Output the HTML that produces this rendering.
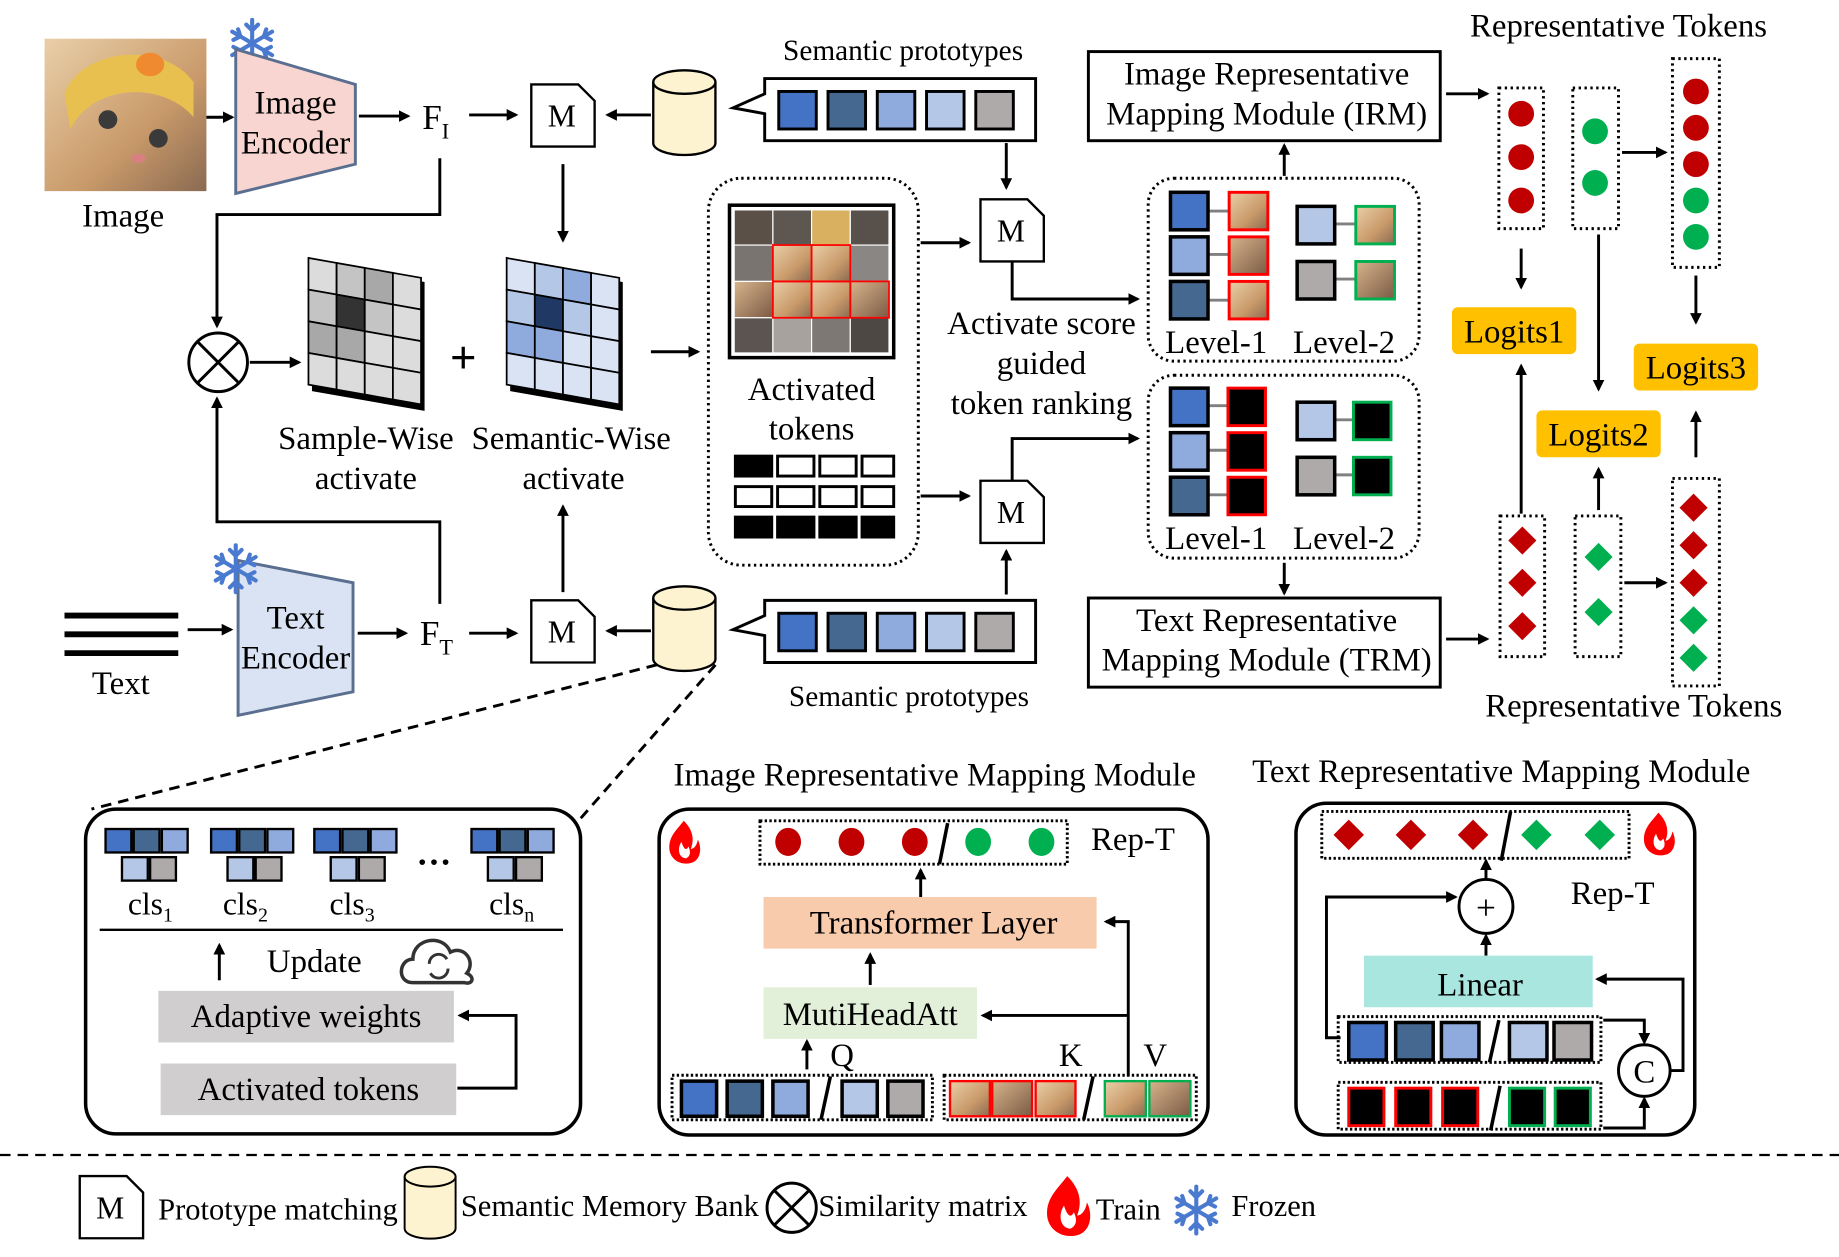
<!DOCTYPE html>
<html><head><meta charset="utf-8">
<style>
html,body{margin:0;padding:0;background:#fff;}
svg{display:block;}
text{font-family:"Liberation Serif",serif;fill:#000;}
</style></head>
<body>
<svg width="1839" height="1257" viewBox="0 0 1568 1072" preserveAspectRatio="none" xmlns="http://www.w3.org/2000/svg">
<defs>
<marker id="ar" markerWidth="10" markerHeight="10" refX="8" refY="5" orient="auto" markerUnits="userSpaceOnUse"><path d="M0,0 L10,5 L0,10 z" fill="#000"/></marker>
<linearGradient id="cat" x1="0" y1="0" x2="1" y2="1"><stop offset="0" stop-color="#e9cfa8"/><stop offset="0.6" stop-color="#c99a6a"/><stop offset="1" stop-color="#8a6a52"/></linearGradient>
<linearGradient id="cat2" x1="0" y1="0" x2="1" y2="1"><stop offset="0" stop-color="#d8b48c"/><stop offset="1" stop-color="#7a5a44"/></linearGradient>
<g id="M"><path d="M0,0 H40 L54,14 V53 H0 Z" fill="#fff" stroke="#000" stroke-width="2"/><text x="26" y="36" font-size="27" text-anchor="middle">M</text></g>
<g id="cyl"><path d="M0,10 V62 A26,10 0 0 0 53,62 V10" fill="#fdf3d0" stroke="#000" stroke-width="2"/><ellipse cx="26.5" cy="10" rx="26.5" ry="10" fill="#fdf3d0" stroke="#000" stroke-width="2"/></g>
<g id="fire"><path d="M0,0 C-6,8 -14,14 -12,26 C-10,34 -2,38 6,36 C14,34 16,24 12,16 C11,22 8,24 6,24 C10,14 6,6 0,0 Z" fill="#f00"/><path d="M-2,18 C-6,24 -4,32 2,32 C6,30 6,26 4,22 C2,26 0,24 -2,18Z" fill="#fff"/></g>
<g id="snow" stroke="#4a7ad0" stroke-width="3.5" fill="none" stroke-linecap="round"><line x1="0" y1="-20" x2="0" y2="20"/><line x1="-17" y1="-10" x2="17" y2="10"/><line x1="-17" y1="10" x2="17" y2="-10"/><path d="M-5,-16 L0,-11 L5,-16 M-5,16 L0,11 L5,16 M-16,-3 L-10,-6 L-12,-12 M16,3 L10,6 L12,12 M-16,3 L-10,6 L-12,12 M16,-3 L10,-6 L12,-12"/></g>
</defs>

<rect x="38" y="33" width="138" height="130" fill="url(#cat)"/>
<path d="M55,80 C70,40 140,35 165,70 L165,100 C140,70 80,70 60,110 Z" fill="#e8c050"/>
<ellipse cx="128" cy="55" rx="12" ry="10" fill="#f08a30"/>
<circle cx="92" cy="102" r="8" fill="#3a3a3a"/><circle cx="135" cy="118" r="8" fill="#3a3a3a"/>
<ellipse cx="118" cy="135" rx="6" ry="4" fill="#d88080"/>
<use href="#snow" x="215" y="37"/>
<path d="M201,42 L303,72 L303,140 L201,165 Z" fill="#f8d5d0" stroke="#5a6f90" stroke-width="2.5"/>
<text x="252" y="97" font-size="28" text-anchor="middle">Image</text>
<text x="252" y="131" font-size="28" text-anchor="middle">Encoder</text>
<text x="105" y="193" font-size="28" text-anchor="middle">Image</text>
<line x1="176" y1="100" x2="198" y2="100" stroke="#000" stroke-width="2.5" marker-end="url(#ar)"/>
<line x1="306" y1="99" x2="348" y2="99" stroke="#000" stroke-width="2.5" marker-end="url(#ar)"/>
<text x="360" y="110" font-size="30">F<tspan font-size="19" dy="8">I</tspan></text>
<line x1="400" y1="98" x2="440" y2="98" stroke="#000" stroke-width="2.5" marker-end="url(#ar)"/>
<use href="#M" x="453" y="72"/>
<line x1="555" y1="98" x2="518" y2="98" stroke="#000" stroke-width="2.5" marker-end="url(#ar)"/>
<use href="#cyl" x="557" y="60"/>
<path d="M652,67 H883 V120 H652 V97 L625,92 L652,80 Z" fill="#fff" stroke="#000" stroke-width="2.5"/>
<g stroke="#000" stroke-width="2.5">
<rect x="664" y="78" width="32" height="32" fill="#4472c4"/><rect x="706" y="78" width="32" height="32" fill="#44688f"/><rect x="748" y="78" width="32" height="32" fill="#8faadc"/><rect x="790" y="78" width="32" height="32" fill="#b4c7e7"/><rect x="832" y="78" width="32" height="32" fill="#aeaaaa"/>
</g>
<text x="770" y="51" font-size="25" text-anchor="middle">Semantic prototypes</text>
<line x1="858" y1="122" x2="858" y2="160" stroke="#000" stroke-width="2.5" marker-end="url(#ar)"/>
<use href="#M" x="836" y="170"/>

<rect x="928" y="44" width="300" height="76" fill="#fff" stroke="#000" stroke-width="2.5"/>
<text x="1080" y="72" font-size="28" text-anchor="middle">Image Representative</text>
<text x="1080" y="106" font-size="28" text-anchor="middle">Mapping Module (IRM)</text>
<line x1="1095" y1="150" x2="1095" y2="124" stroke="#000" stroke-width="2.5" marker-end="url(#ar)"/>
<line x1="1233" y1="80" x2="1268" y2="80" stroke="#000" stroke-width="2.5" marker-end="url(#ar)"/>
<text x="1380" y="31" font-size="28" text-anchor="middle">Representative Tokens</text>

<g fill="none" stroke="#000" stroke-width="2.5" stroke-dasharray="2,3">
<rect x="1278" y="75" width="38" height="120"/><rect x="1341" y="75" width="39" height="120"/><rect x="1426" y="50" width="40" height="178"/>
<rect x="1279" y="440" width="38" height="120"/><rect x="1343" y="440" width="39" height="120"/><rect x="1426" y="408" width="40" height="177"/>
</g>
<g fill="#c00000"><circle cx="1297" cy="97" r="11"/><circle cx="1297" cy="134" r="11"/><circle cx="1297" cy="171" r="11"/>
<circle cx="1446" cy="78" r="11"/><circle cx="1446" cy="109" r="11"/><circle cx="1446" cy="140" r="11"/></g>
<g fill="#00b050"><circle cx="1360" cy="112" r="11"/><circle cx="1360" cy="156" r="11"/><circle cx="1446" cy="171" r="11"/><circle cx="1446" cy="202" r="11"/></g>
<line x1="1383" y1="130" x2="1420" y2="130" stroke="#000" stroke-width="2.5" marker-end="url(#ar)"/>
<line x1="1297" y1="212" x2="1297" y2="245" stroke="#000" stroke-width="2.5" marker-end="url(#ar)"/>
<line x1="1363" y1="200" x2="1363" y2="332" stroke="#000" stroke-width="2.5" marker-end="url(#ar)"/>
<line x1="1446" y1="235" x2="1446" y2="275" stroke="#000" stroke-width="2.5" marker-end="url(#ar)"/>
<rect x="1238" y="262" width="106" height="40" rx="5" fill="#ffc000"/><text x="1291" y="292" font-size="28" text-anchor="middle">Logits1</text>
<rect x="1310" y="350" width="106" height="40" rx="5" fill="#ffc000"/><text x="1363" y="380" font-size="28" text-anchor="middle">Logits2</text>
<rect x="1393" y="293" width="106" height="40" rx="5" fill="#ffc000"/><text x="1446" y="323" font-size="28" text-anchor="middle">Logits3</text>
<line x1="1297" y1="438" x2="1297" y2="312" stroke="#000" stroke-width="2.5" marker-end="url(#ar)"/>
<line x1="1363" y1="435" x2="1363" y2="400" stroke="#000" stroke-width="2.5" marker-end="url(#ar)"/>
<line x1="1446" y1="390" x2="1446" y2="352" stroke="#000" stroke-width="2.5" marker-end="url(#ar)"/>
<g fill="#c00000">
<path d="M1298,449 l12,12 l-12,12 l-12,-12z"/><path d="M1298,485 l12,12 l-12,12 l-12,-12z"/><path d="M1298,522 l12,12 l-12,12 l-12,-12z"/>
<path d="M1444,421 l12,12 l-12,12 l-12,-12z"/><path d="M1444,453 l12,12 l-12,12 l-12,-12z"/><path d="M1444,485 l12,12 l-12,12 l-12,-12z"/>
</g>
<g fill="#00b050">
<path d="M1363,463 l12,12 l-12,12 l-12,-12z"/><path d="M1363,510 l12,12 l-12,12 l-12,-12z"/>
<path d="M1444,517 l12,12 l-12,12 l-12,-12z"/><path d="M1444,549 l12,12 l-12,12 l-12,-12z"/>
</g>
<line x1="1385" y1="497" x2="1420" y2="497" stroke="#000" stroke-width="2.5" marker-end="url(#ar)"/>
<text x="1393" y="611" font-size="28" text-anchor="middle">Representative Tokens</text>
<rect x="928" y="510" width="300" height="76" fill="#fff" stroke="#000" stroke-width="2.5"/>
<text x="1080" y="538" font-size="28" text-anchor="middle">Text Representative</text>
<text x="1080" y="572" font-size="28" text-anchor="middle">Mapping Module (TRM)</text>
<line x1="1095" y1="480" x2="1095" y2="506" stroke="#000" stroke-width="2.5" marker-end="url(#ar)"/>
<line x1="1233" y1="545" x2="1268" y2="545" stroke="#000" stroke-width="2.5" marker-end="url(#ar)"/>

<polyline points="375,135 375,183 185,183 185,278" fill="none" stroke="#000" stroke-width="2.5" marker-end="url(#ar)"/>
<circle cx="186" cy="309" r="25" fill="#fff" stroke="#000" stroke-width="2.5"/>
<line x1="168" y1="291" x2="204" y2="327" stroke="#000" stroke-width="2.5"/><line x1="204" y1="291" x2="168" y2="327" stroke="#000" stroke-width="2.5"/>
<line x1="213" y1="309" x2="255" y2="309" stroke="#000" stroke-width="2.5" marker-end="url(#ar)"/>
<polyline points="375,515 375,445 185,445 185,340" fill="none" stroke="#000" stroke-width="2.5" marker-end="url(#ar)"/>

<g transform="translate(263,220) skewY(10)">
<rect x="3" y="3" width="96" height="110" fill="#000"/>
<g stroke="#000" stroke-width="1.5">
<rect x="0" y="0" width="24" height="27" fill="#dcdcdc"/><rect x="24" y="0" width="24" height="27" fill="#c4c4c4"/><rect x="48" y="0" width="24" height="27" fill="#a8a8a8"/><rect x="72" y="0" width="24" height="27" fill="#dcdcdc"/>
<rect x="0" y="27" width="24" height="27" fill="#c4c4c4"/><rect x="24" y="27" width="24" height="27" fill="#333"/><rect x="48" y="27" width="24" height="27" fill="#c4c4c4"/><rect x="72" y="27" width="24" height="27" fill="#dcdcdc"/>
<rect x="0" y="54" width="24" height="27" fill="#a8a8a8"/><rect x="24" y="54" width="24" height="27" fill="#a8a8a8"/><rect x="48" y="54" width="24" height="27" fill="#dcdcdc"/><rect x="72" y="54" width="24" height="27" fill="#dcdcdc"/>
<rect x="0" y="81" width="24" height="27" fill="#dcdcdc"/><rect x="24" y="81" width="24" height="27" fill="#dcdcdc"/><rect x="48" y="81" width="24" height="27" fill="#dcdcdc"/><rect x="72" y="81" width="24" height="27" fill="#dcdcdc"/>
</g></g>
<text x="395" y="318" font-size="40" text-anchor="middle" font-family="Liberation Sans" font-weight="bold">+</text>
<g transform="translate(432,220) skewY(10)">
<rect x="3" y="3" width="96" height="110" fill="#000"/>
<g stroke="#000" stroke-width="1.5">
<rect x="0" y="0" width="24" height="27" fill="#dae3f3"/><rect x="24" y="0" width="24" height="27" fill="#b4c7e7"/><rect x="48" y="0" width="24" height="27" fill="#8faadc"/><rect x="72" y="0" width="24" height="27" fill="#dae3f3"/>
<rect x="0" y="27" width="24" height="27" fill="#b4c7e7"/><rect x="24" y="27" width="24" height="27" fill="#1f3864"/><rect x="48" y="27" width="24" height="27" fill="#b4c7e7"/><rect x="72" y="27" width="24" height="27" fill="#dae3f3"/>
<rect x="0" y="54" width="24" height="27" fill="#8faadc"/><rect x="24" y="54" width="24" height="27" fill="#8faadc"/><rect x="48" y="54" width="24" height="27" fill="#dae3f3"/><rect x="72" y="54" width="24" height="27" fill="#dae3f3"/>
<rect x="0" y="81" width="24" height="27" fill="#dae3f3"/><rect x="24" y="81" width="24" height="27" fill="#dae3f3"/><rect x="48" y="81" width="24" height="27" fill="#dae3f3"/><rect x="72" y="81" width="24" height="27" fill="#dae3f3"/>
</g></g>
<text x="312" y="383" font-size="28" text-anchor="middle">Sample-Wise</text>
<text x="312" y="417" font-size="28" text-anchor="middle">activate</text>
<text x="487" y="383" font-size="28" text-anchor="middle">Semantic-Wise</text>
<text x="489" y="417" font-size="28" text-anchor="middle">activate</text>
<line x1="480" y1="140" x2="480" y2="205" stroke="#000" stroke-width="2.5" marker-end="url(#ar)"/>
<line x1="480" y1="505" x2="480" y2="432" stroke="#000" stroke-width="2.5" marker-end="url(#ar)"/>
<line x1="555" y1="300" x2="595" y2="300" stroke="#000" stroke-width="2.5" marker-end="url(#ar)"/>

<rect x="604" y="152" width="179" height="330" rx="28" fill="none" stroke="#000" stroke-width="2.5" stroke-dasharray="2,3"/>
<rect x="622" y="175" width="140" height="130" fill="#fff" stroke="#000" stroke-width="3"/>
<g stroke="#fff" stroke-width="1">
<rect x="626" y="179" width="33" height="30" fill="#5a5048"/><rect x="659" y="179" width="33" height="30" fill="#5e5650"/><rect x="692" y="179" width="33" height="30" fill="#d8b060"/><rect x="725" y="179" width="33" height="30" fill="#58504a"/>
<rect x="626" y="209" width="33" height="31" fill="#7a7470"/><rect x="659" y="209" width="33" height="31" fill="url(#cat)"/><rect x="692" y="209" width="33" height="31" fill="url(#cat)"/><rect x="725" y="209" width="33" height="31" fill="#8a8684"/>
<rect x="626" y="240" width="33" height="31" fill="url(#cat2)"/><rect x="659" y="240" width="33" height="31" fill="url(#cat)"/><rect x="692" y="240" width="33" height="31" fill="url(#cat)"/><rect x="725" y="240" width="33" height="31" fill="url(#cat2)"/>
<rect x="626" y="271" width="33" height="30" fill="#5c5450"/><rect x="659" y="271" width="33" height="30" fill="#a8a29e"/><rect x="692" y="271" width="33" height="30" fill="#7e7874"/><rect x="725" y="271" width="33" height="30" fill="#4e4844"/>
</g>
<g fill="none" stroke="#f00" stroke-width="1.5"><rect x="659" y="209" width="33" height="31"/><rect x="692" y="209" width="33" height="31"/><rect x="659" y="240" width="33" height="31"/><rect x="692" y="240" width="33" height="31"/><rect x="725" y="240" width="33" height="31"/></g>
<text x="692" y="341" font-size="28" text-anchor="middle">Activated</text>
<text x="692" y="375" font-size="28" text-anchor="middle">tokens</text>
<g stroke="#000" stroke-width="2.5">
<rect x="627" y="389" width="31" height="17" fill="#000"/><rect x="663" y="389" width="31" height="17" fill="#fff"/><rect x="699" y="389" width="31" height="17" fill="#fff"/><rect x="735" y="389" width="27" height="17" fill="#fff"/>
<rect x="627" y="415" width="31" height="17" fill="#fff"/><rect x="663" y="415" width="31" height="17" fill="#fff"/><rect x="699" y="415" width="31" height="17" fill="#fff"/><rect x="735" y="415" width="27" height="17" fill="#fff"/>
<rect x="627" y="441" width="31" height="17" fill="#000"/><rect x="663" y="441" width="31" height="17" fill="#000"/><rect x="699" y="441" width="31" height="17" fill="#000"/><rect x="735" y="441" width="27" height="17" fill="#000"/>
</g>
<line x1="785" y1="207" x2="826" y2="207" stroke="#000" stroke-width="2.5" marker-end="url(#ar)"/>
<line x1="785" y1="423" x2="826" y2="423" stroke="#000" stroke-width="2.5" marker-end="url(#ar)"/>
<use href="#M" x="836" y="410"/>
<polyline points="863,223 863,255 970,255" fill="none" stroke="#000" stroke-width="2.5" marker-end="url(#ar)"/>
<polyline points="863,410 863,374 970,374" fill="none" stroke="#000" stroke-width="2.5" marker-end="url(#ar)"/>
<line x1="858" y1="507" x2="858" y2="470" stroke="#000" stroke-width="2.5" marker-end="url(#ar)"/>
<text x="888" y="285" font-size="28" text-anchor="middle">Activate score</text>
<text x="888" y="319" font-size="28" text-anchor="middle">guided</text>
<text x="888" y="353" font-size="28" text-anchor="middle">token ranking</text>

<rect x="979" y="152" width="231" height="156" rx="22" fill="none" stroke="#000" stroke-width="2.5" stroke-dasharray="2,3"/>
<rect x="979" y="320" width="231" height="156" rx="22" fill="none" stroke="#000" stroke-width="2.5" stroke-dasharray="2,3"/>
<g stroke="#808080" stroke-width="2.5">
<line x1="1030" y1="180" x2="1048" y2="180"/><line x1="1030" y1="217" x2="1048" y2="217"/><line x1="1030" y1="256" x2="1048" y2="256"/>
<line x1="1137" y1="191" x2="1156" y2="191"/><line x1="1137" y1="238" x2="1156" y2="238"/>
<line x1="1030" y1="346" x2="1048" y2="346"/><line x1="1030" y1="384" x2="1048" y2="384"/><line x1="1030" y1="422" x2="1048" y2="422"/>
<line x1="1137" y1="358" x2="1156" y2="358"/><line x1="1137" y1="405" x2="1156" y2="405"/>
</g>
<g stroke="#000" stroke-width="3">
<rect x="998" y="164" width="32" height="32" fill="#4472c4"/><rect x="998" y="202" width="32" height="32" fill="#8faadc"/><rect x="998" y="240" width="32" height="32" fill="#44688f"/>
<rect x="1106" y="176" width="32" height="32" fill="#b4c7e7"/><rect x="1106" y="223" width="32" height="32" fill="#aeaaaa"/>
<rect x="998" y="331" width="32" height="32" fill="#4472c4"/><rect x="998" y="369" width="32" height="32" fill="#8faadc"/><rect x="998" y="407" width="32" height="32" fill="#44688f"/>
<rect x="1106" y="343" width="32" height="32" fill="#b4c7e7"/><rect x="1106" y="390" width="32" height="32" fill="#aeaaaa"/>
</g>
<g stroke="#f00" stroke-width="2.5">
<rect x="1048" y="164" width="33" height="32" fill="url(#cat)"/><rect x="1048" y="202" width="33" height="32" fill="url(#cat2)"/><rect x="1048" y="240" width="33" height="32" fill="url(#cat)"/>
<rect x="1047" y="331" width="32" height="32" fill="#000"/><rect x="1047" y="369" width="32" height="32" fill="#000"/><rect x="1047" y="407" width="32" height="32" fill="#000"/>
</g>
<g stroke="#00b050" stroke-width="2.5">
<rect x="1156" y="176" width="33" height="32" fill="url(#cat)"/><rect x="1156" y="223" width="33" height="32" fill="url(#cat2)"/>
<rect x="1154" y="343" width="32" height="32" fill="#000"/><rect x="1154" y="390" width="32" height="32" fill="#000"/>
</g>
<text x="1037" y="301" font-size="28" text-anchor="middle">Level-1</text><text x="1146" y="301" font-size="28" text-anchor="middle">Level-2</text>
<text x="1037" y="468" font-size="28" text-anchor="middle">Level-1</text><text x="1146" y="468" font-size="28" text-anchor="middle">Level-2</text>

<g stroke="#000" stroke-width="5"><line x1="55" y1="525" x2="152" y2="525"/><line x1="55" y1="541" x2="152" y2="541"/><line x1="55" y1="557" x2="152" y2="557"/></g>
<text x="103" y="592" font-size="28" text-anchor="middle">Text</text>
<line x1="160" y1="537" x2="197" y2="537" stroke="#000" stroke-width="2.5" marker-end="url(#ar)"/>
<path d="M203,478 L301,497 L301,590 L203,610 Z" fill="#dae3f3" stroke="#5a6f90" stroke-width="2.5"/>
<use href="#snow" x="201" y="485"/>
<text x="252" y="536" font-size="28" text-anchor="middle">Text</text>
<text x="252" y="570" font-size="28" text-anchor="middle">Encoder</text>
<line x1="305" y1="540" x2="346" y2="540" stroke="#000" stroke-width="2.5" marker-end="url(#ar)"/>
<text x="358" y="550" font-size="30">F<tspan font-size="19" dy="8">T</tspan></text>
<line x1="400" y1="540" x2="440" y2="540" stroke="#000" stroke-width="2.5" marker-end="url(#ar)"/>
<use href="#M" x="453" y="512"/>
<line x1="555" y1="538" x2="518" y2="538" stroke="#000" stroke-width="2.5" marker-end="url(#ar)"/>
<use href="#cyl" x="557" y="500"/>
<path d="M652,512 H883 V565 H652 V542 L625,537 L652,525 Z" fill="#fff" stroke="#000" stroke-width="2.5"/>
<g stroke="#000" stroke-width="2.5">
<rect x="664" y="523" width="32" height="32" fill="#4472c4"/><rect x="706" y="523" width="32" height="32" fill="#44688f"/><rect x="748" y="523" width="32" height="32" fill="#8faadc"/><rect x="790" y="523" width="32" height="32" fill="#b4c7e7"/><rect x="832" y="523" width="32" height="32" fill="#aeaaaa"/>
</g>
<text x="775" y="602" font-size="25" text-anchor="middle">Semantic prototypes</text>
<g stroke="#000" stroke-width="2.5" stroke-dasharray="9,6"><line x1="560" y1="567" x2="78" y2="690"/><line x1="610" y1="567" x2="495" y2="698"/></g>

<rect x="73" y="690" width="422" height="277" rx="26" fill="#fff" stroke="#000" stroke-width="3"/>
<g stroke="#000" stroke-width="2">
<g id="clsg">
<rect x="90" y="707" width="22" height="20" fill="#4472c4"/><rect x="114" y="707" width="22" height="20" fill="#44688f"/><rect x="138" y="707" width="22" height="20" fill="#8faadc"/>
<rect x="104" y="731" width="22" height="20" fill="#b4c7e7"/><rect x="128" y="731" width="22" height="20" fill="#aeaaaa"/>
</g>
<use href="#clsg" x="90"/><use href="#clsg" x="178"/><use href="#clsg" x="312"/>
</g>
<text x="370" y="745" font-size="30" text-anchor="middle" font-weight="bold">···</text>
<text x="109" y="780" font-size="27">cls<tspan font-size="17" dy="6">1</tspan></text>
<text x="190" y="780" font-size="27">cls<tspan font-size="17" dy="6">2</tspan></text>
<text x="281" y="780" font-size="27">cls<tspan font-size="17" dy="6">3</tspan></text>
<text x="417" y="780" font-size="27">cls<tspan font-size="17" dy="6">n</tspan></text>
<line x1="85" y1="793" x2="480" y2="793" stroke="#000" stroke-width="2"/>
<line x1="187" y1="836" x2="187" y2="806" stroke="#000" stroke-width="2.5" marker-end="url(#ar)"/>
<text x="268" y="829" font-size="28" text-anchor="middle">Update</text>
<path d="M352,838 C338,838 340,818 352,818 C352,800 378,796 384,812 C396,806 406,820 398,830 C406,834 402,840 396,838 Z" fill="none" stroke="#333" stroke-width="3"/>
<path d="M366,822 A8,8 0 0 1 381,818 M382,826 A8,8 0 0 1 367,830" fill="none" stroke="#333" stroke-width="2.5"/>
<rect x="135" y="845" width="252" height="44" fill="#d0cece"/><text x="261" y="876" font-size="28" text-anchor="middle">Adaptive weights</text>
<rect x="137" y="907" width="252" height="44" fill="#d0cece"/><text x="263" y="938" font-size="28" text-anchor="middle">Activated tokens</text>
<polyline points="390,928 440,928 440,866 392,866" fill="none" stroke="#000" stroke-width="2.5" marker-end="url(#ar)"/>

<text x="797" y="670" font-size="28" text-anchor="middle">Image Representative Mapping Module</text>
<rect x="562" y="690" width="468" height="278" rx="26" fill="#fff" stroke="#000" stroke-width="3"/>
<use href="#fire" x="583" y="700"/>
<rect x="648" y="700" width="262" height="37" fill="none" stroke="#000" stroke-width="2.5" stroke-dasharray="2,2"/>
<g fill="#c00000"><ellipse cx="672" cy="718" rx="11" ry="12"/><ellipse cx="726" cy="718" rx="11" ry="12"/><ellipse cx="780" cy="718" rx="11" ry="12"/></g>
<g fill="#00b050"><ellipse cx="834" cy="718" rx="11" ry="12"/><ellipse cx="888" cy="718" rx="11" ry="12"/></g>
<line x1="808" y1="702" x2="801" y2="737" stroke="#000" stroke-width="3"/>
<text x="966" y="725" font-size="28" text-anchor="middle">Rep-T</text>
<line x1="785" y1="766" x2="785" y2="742" stroke="#000" stroke-width="2.5" marker-end="url(#ar)"/>
<rect x="651" y="765" width="284" height="44" fill="#f8cbad"/><text x="796" y="796" font-size="28" text-anchor="middle">Transformer Layer</text>
<line x1="742" y1="840" x2="742" y2="814" stroke="#000" stroke-width="2.5" marker-end="url(#ar)"/>
<rect x="651" y="842" width="182" height="44" fill="#e2f0d9"/><text x="742" y="874" font-size="28" text-anchor="middle">MutiHeadAtt</text>
<line x1="688" y1="912" x2="688" y2="888" stroke="#000" stroke-width="2.5" marker-end="url(#ar)"/>
<text x="718" y="909" font-size="28" text-anchor="middle">Q</text><text x="913" y="909" font-size="28" text-anchor="middle">K</text><text x="985" y="909" font-size="28" text-anchor="middle">V</text>
<polyline points="962,918 962,786 943,786" fill="none" stroke="#000" stroke-width="2.5" marker-end="url(#ar)"/>
<polyline points="962,866 838,866" fill="none" stroke="#000" stroke-width="2.5" marker-end="url(#ar)"/>
<rect x="573" y="917" width="222" height="38" fill="none" stroke="#000" stroke-width="2.5" stroke-dasharray="2,2"/>
<rect x="805" y="917" width="215" height="38" fill="none" stroke="#000" stroke-width="2.5" stroke-dasharray="2,2"/>
<g stroke="#000" stroke-width="3">
<rect x="581" y="922" width="30" height="30" fill="#4472c4"/><rect x="620" y="922" width="30" height="30" fill="#44688f"/><rect x="659" y="922" width="30" height="30" fill="#8faadc"/>
<rect x="718" y="922" width="30" height="30" fill="#b4c7e7"/><rect x="757" y="922" width="30" height="30" fill="#aeaaaa"/>
</g>
<line x1="708" y1="918" x2="700" y2="955" stroke="#000" stroke-width="3"/>
<g stroke="#f00" stroke-width="2"><rect x="810" y="922" width="34" height="30" fill="url(#cat)"/><rect x="846" y="922" width="34" height="30" fill="url(#cat2)"/><rect x="883" y="922" width="34" height="30" fill="url(#cat)"/></g>
<line x1="932" y1="918" x2="924" y2="955" stroke="#000" stroke-width="3"/>
<g stroke="#00b050" stroke-width="2"><rect x="942" y="922" width="35" height="30" fill="url(#cat)"/><rect x="980" y="922" width="35" height="30" fill="url(#cat2)"/></g>

<text x="1280" y="667" font-size="28" text-anchor="middle">Text Representative Mapping Module</text>
<rect x="1105" y="685" width="340" height="283" rx="26" fill="#fff" stroke="#000" stroke-width="3"/>
<rect x="1127" y="692" width="262" height="40" fill="none" stroke="#000" stroke-width="2.5" stroke-dasharray="2,2"/>
<g fill="#c00000"><path d="M1150,699 l13,13 l-13,13 l-13,-13z"/><path d="M1203,699 l13,13 l-13,13 l-13,-13z"/><path d="M1256,699 l13,13 l-13,13 l-13,-13z"/></g>
<g fill="#00b050"><path d="M1310,699 l13,13 l-13,13 l-13,-13z"/><path d="M1364,699 l13,13 l-13,13 l-13,-13z"/></g>
<line x1="1288" y1="692" x2="1280" y2="734" stroke="#000" stroke-width="3"/>
<use href="#fire" x="1414" y="693"/>
<text x="1375" y="771" font-size="28" text-anchor="middle">Rep-T</text>
<line x1="1267" y1="750" x2="1267" y2="734" stroke="#000" stroke-width="2.5" marker-end="url(#ar)"/>
<circle cx="1267" cy="773" r="23" fill="#fff" stroke="#000" stroke-width="2.5"/>
<text x="1267" y="784" font-size="30" text-anchor="middle">+</text>
<polyline points="1143,885 1131,885 1131,765 1241,765" fill="none" stroke="#000" stroke-width="2.5" marker-end="url(#ar)"/>
<line x1="1267" y1="815" x2="1267" y2="798" stroke="#000" stroke-width="2.5" marker-end="url(#ar)"/>
<rect x="1163" y="815" width="195" height="44" fill="#a9e6e0"/><text x="1262" y="849" font-size="28" text-anchor="middle">Linear</text>
<rect x="1141" y="867" width="224" height="39" fill="none" stroke="#000" stroke-width="2.5" stroke-dasharray="2,2"/>
<rect x="1141" y="923" width="224" height="40" fill="none" stroke="#000" stroke-width="2.5" stroke-dasharray="2,2"/>
<g stroke="#000" stroke-width="3">
<rect x="1150" y="872" width="32" height="32" fill="#4472c4"/><rect x="1190" y="872" width="32" height="32" fill="#44688f"/><rect x="1229" y="872" width="32" height="32" fill="#8faadc"/>
<rect x="1287" y="872" width="32" height="32" fill="#b4c7e7"/><rect x="1325" y="872" width="32" height="32" fill="#aeaaaa"/>
</g>
<line x1="1278" y1="870" x2="1270" y2="906" stroke="#000" stroke-width="3"/>
<g stroke="#f00" stroke-width="2.5" fill="#000"><rect x="1150" y="928" width="30" height="32"/><rect x="1190" y="928" width="30" height="32"/><rect x="1230" y="928" width="30" height="32"/></g>
<g stroke="#00b050" stroke-width="2.5" fill="#000"><rect x="1287" y="928" width="30" height="32"/><rect x="1326" y="928" width="30" height="32"/></g>
<line x1="1279" y1="926" x2="1271" y2="964" stroke="#000" stroke-width="3"/>
<circle cx="1402" cy="913" r="22" fill="#fff" stroke="#000" stroke-width="2.5"/>
<text x="1402" y="923" font-size="28" text-anchor="middle">C</text>
<polyline points="1367,870 1402,870 1402,889" fill="none" stroke="#000" stroke-width="2.5" marker-end="url(#ar)"/>
<polyline points="1367,962 1402,962 1402,937" fill="none" stroke="#000" stroke-width="2.5" marker-end="url(#ar)"/>
<polyline points="1424,913 1435,913 1435,835 1362,835" fill="none" stroke="#000" stroke-width="2.5" marker-end="url(#ar)"/>

<line x1="0" y1="985" x2="1568" y2="985" stroke="#000" stroke-width="2" stroke-dasharray="9,6"/>
<use href="#M" x="68" y="1003"/>
<text x="237" y="1040" font-size="26" text-anchor="middle">Prototype matching</text>
<g transform="translate(345,995) scale(0.82,0.85)"><use href="#cyl"/></g>
<text x="520" y="1037" font-size="26" text-anchor="middle">Semantic Memory Bank</text>
<circle cx="675" cy="1030" r="21" fill="#fff" stroke="#000" stroke-width="2.5"/>
<line x1="660" y1="1015" x2="690" y2="1045" stroke="#000" stroke-width="2.5"/><line x1="690" y1="1015" x2="660" y2="1045" stroke="#000" stroke-width="2.5"/>
<text x="787" y="1037" font-size="26" text-anchor="middle">Similarity matrix</text>
<g transform="translate(910,1003) scale(1.4)"><use href="#fire"/></g>
<text x="962" y="1040" font-size="26" text-anchor="middle">Train</text>
<use href="#snow" x="1020" y="1032"/>
<text x="1086" y="1037" font-size="26" text-anchor="middle">Frozen</text>
</svg>
</body></html>
